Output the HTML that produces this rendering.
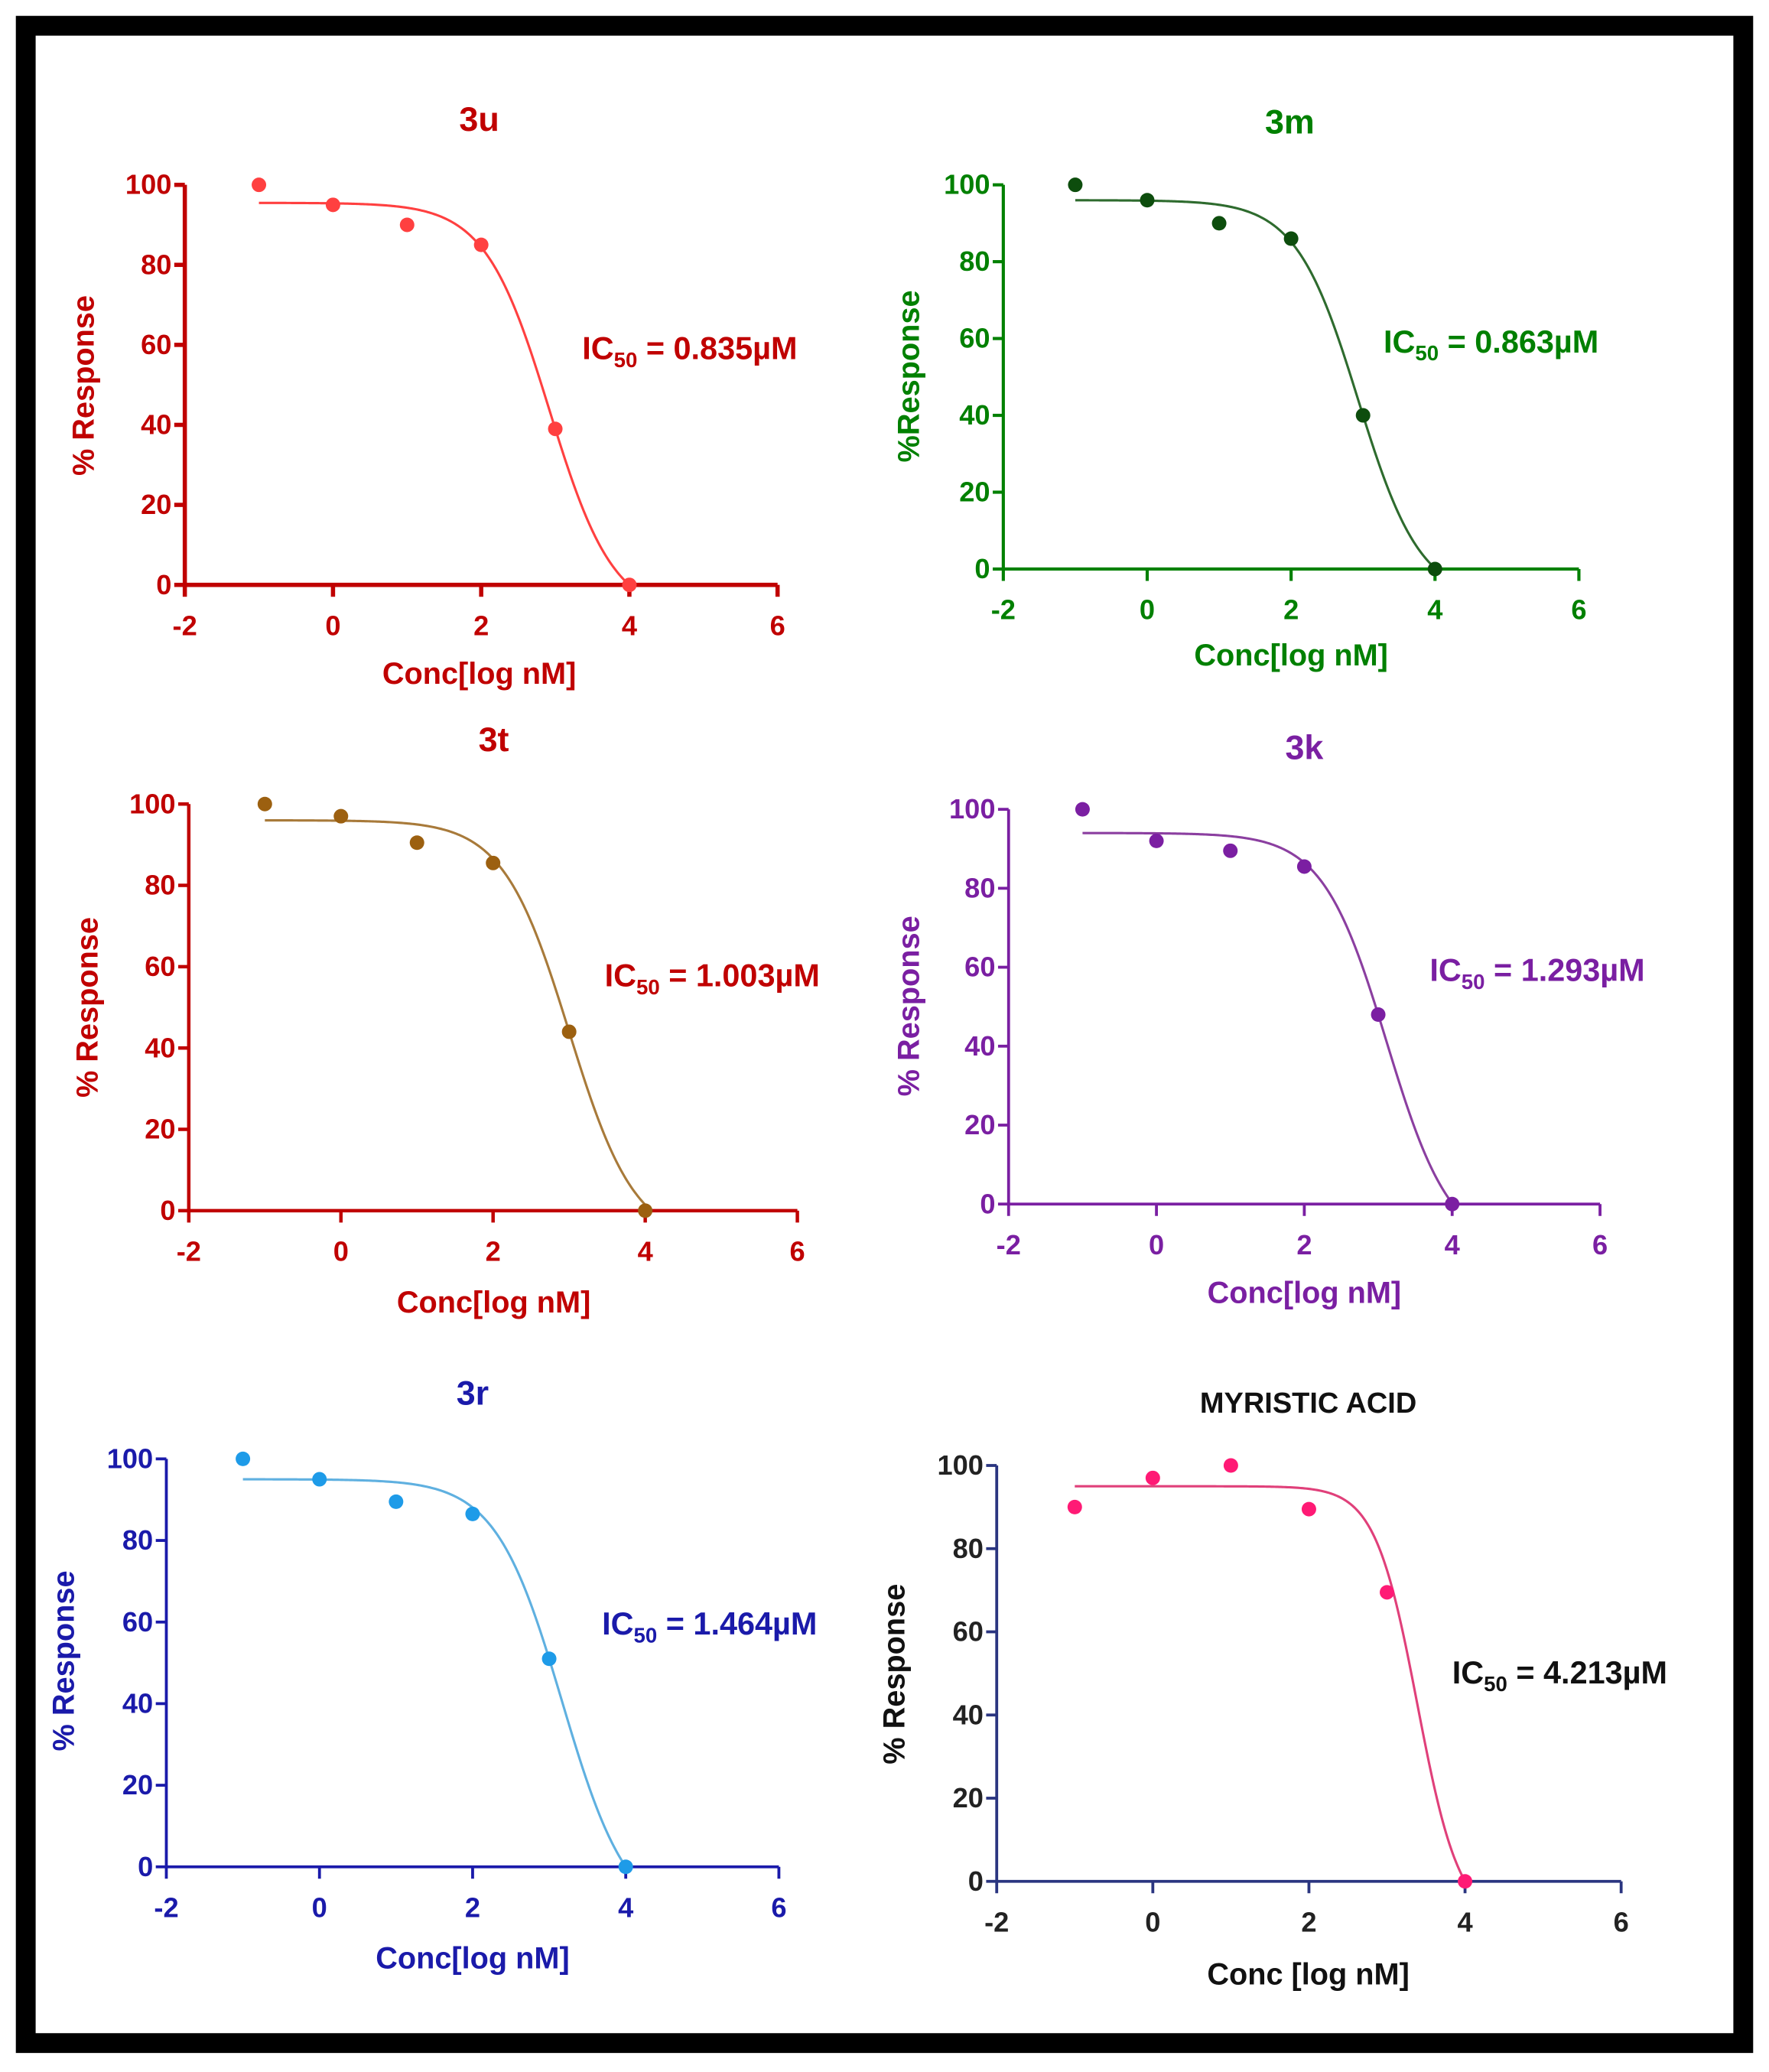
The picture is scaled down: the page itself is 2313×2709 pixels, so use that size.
<!DOCTYPE html>
<html><head><meta charset="utf-8"><style>
html,body{margin:0;padding:0;background:#fff;}
svg{display:block;}
text{font-family:"Liberation Sans",Arial,sans-serif;font-weight:bold;}
</style></head><body>
<svg id="s" width="2313" height="2709" viewBox="0 0 1340 1569.4" xmlns="http://www.w3.org/2000/svg">
<rect x="0" y="0" width="1340" height="1570" fill="#fff"/>
<rect x="19.5" y="19.5" width="1301" height="1528" fill="none" stroke="#000" stroke-width="15"/>
<g id="g"></g>
<g font-size="26" text-anchor="middle">
<text x="363" y="99" fill="#c00000">3u</text>
<text x="977" y="101" fill="#008000">3m</text>
<text x="374" y="569" fill="#c00000">3t</text>
<text x="988" y="575" fill="#7a1fa2">3k</text>
<text x="358" y="1064" fill="#1a1aaa">3r</text>
<text x="991" y="1070" fill="#111" font-size="22">MYRISTIC ACID</text>
</g>
<g font-size="23" text-anchor="middle">
<text x="363" y="518" fill="#c00000">Conc[log nM]</text>
<text x="978" y="504" fill="#008000">Conc[log nM]</text>
<text x="374" y="994" fill="#c00000">Conc[log nM]</text>
<text x="988" y="987" fill="#7a1fa2">Conc[log nM]</text>
<text x="358" y="1491" fill="#1a1aaa">Conc[log nM]</text>
<text x="991" y="1503" fill="#111">Conc [log nM]</text>
<text transform="translate(71,292) rotate(-90)" fill="#c00000">% Response</text>
<text transform="translate(696,285) rotate(-90)" fill="#008000">%Response</text>
<text transform="translate(74,763) rotate(-90)" fill="#c00000">% Response</text>
<text transform="translate(696,762) rotate(-90)" fill="#7a1fa2">% Response</text>
<text transform="translate(56,1258) rotate(-90)" fill="#1a1aaa">% Response</text>
<text transform="translate(685,1268) rotate(-90)" fill="#111">% Response</text>
</g>
<g font-size="24">
<text x="441" y="272" fill="#c00000">IC<tspan font-size="16" dy="6">50</tspan><tspan dy="-6"> = 0.835µM</tspan></text>
<text x="1048" y="267" fill="#008000">IC<tspan font-size="16" dy="6">50</tspan><tspan dy="-6"> = 0.863µM</tspan></text>
<text x="458" y="747" fill="#c00000">IC<tspan font-size="16" dy="6">50</tspan><tspan dy="-6"> = 1.003µM</tspan></text>
<text x="1083" y="743" fill="#7a1fa2">IC<tspan font-size="16" dy="6">50</tspan><tspan dy="-6"> = 1.293µM</tspan></text>
<text x="456" y="1238" fill="#1a1aaa">IC<tspan font-size="16" dy="6">50</tspan><tspan dy="-6"> = 1.464µM</tspan></text>
<text x="1100" y="1275" fill="#111" font-weight="normal">IC<tspan font-size="16" dy="6">50</tspan><tspan dy="-6"> = 4.213µM</tspan></text>
</g>
<g id="t" font-size="21"></g>
</svg>
<script>
var P=[
{x0:140,x6:589,y100:140,y0:443,ax:"#c00000",cv:"#ff4040",pt:"#ff4040",tk:"#c00000",lw:3.2,top:95.5,c:2.92,h:1.0,b:-8,d:[100,95,90,85,39,0]},
{x0:760,x6:1196,y100:140,y0:431,ax:"#008000",cv:"#2e6b2e",pt:"#0d4d0d",tk:"#008000",lw:2.4,top:96,c:2.933,h:1.0,b:-8,d:[100,96,90,86,40,0]},
{x0:143,x6:604,y100:609,y0:917,ax:"#c00000",cv:"#a87a3a",pt:"#9c6010",tk:"#c00000",lw:2.6,top:96,c:3.0,h:1.0,b:-8,d:[100,97,90.5,85.5,44,0]},
{x0:764,x6:1212,y100:613,y0:912,ax:"#7a1fa2",cv:"#8b3fa0",pt:"#7b1fa2",tk:"#7a1fa2",lw:2.2,top:94,c:3.115,h:1.0,b:-12,d:[100,92,89.5,85.5,48,0]},
{x0:126,x6:590,y100:1105,y0:1414,ax:"#1a1aaa",cv:"#5fb0e0",pt:"#1e9be8",tk:"#1a1aaa",lw:2.2,top:95,c:3.169,h:1.0,b:-14,d:[100,95,89.5,86.5,51,0]},
{x0:755,x6:1228,y100:1110,y0:1425,ax:"#2a3580",cv:"#e0407a",pt:"#ff1a75",tk:"#222",lw:2.2,top:95,c:3.39,h:1.6,b:-10,d:[90,97,100,89.5,69.5,0],nb:1}
];
var g="",t="";
P.forEach(function(p){
 function X(v){return p.x0+(v+2)/8*(p.x6-p.x0);}
 function Y(v){return p.y0+(p.y100-p.y0)*v/100;}
 g+='<g stroke="'+p.ax+'" stroke-width="'+p.lw+'" fill="none">';
 g+='<path d="M'+X(-2)+' '+Y(100)+'V'+p.y0+'H'+X(6)+'"/>';
 for(var v=0;v<=100;v+=20){g+='<path d="M'+(X(-2)-8)+' '+Y(v)+'H'+X(-2)+'"/>';
  t+='<text x="'+(X(-2)-10)+'" y="'+(Y(v)+7)+'" text-anchor="end" fill="'+p.tk+'"'+(p.nb?' font-weight="normal" font-size="21"':'')+'>'+v+'</text>';}
 for(var u=-2;u<=6;u+=2){g+='<path d="M'+X(u)+' '+p.y0+'V'+(p.y0+9)+'"/>';
  t+='<text x="'+X(u)+'" y="'+(p.y0+38)+'" text-anchor="middle" fill="'+p.tk+'"'+(p.nb?' font-weight="normal" font-size="21"':'')+'>'+u+'</text>';}
 g+='</g>';
 var d="";
 for(var x=-1;x<=4.0001;x+=0.02){var y=p.b+(p.top-p.b)/(1+Math.pow(10,p.h*(x-p.c)));if(y<0)y=0;d+=(d?"L":"M")+X(x).toFixed(2)+" "+Y(y).toFixed(2);}
 g+='<path d="'+d+'" stroke="'+p.cv+'" stroke-width="1.8" fill="none"/>';
 p.d.forEach(function(v,i){g+='<circle cx="'+X(i-1)+'" cy="'+Y(v)+'" r="5.5" fill="'+p.pt+'"/>';});
});
document.getElementById("g").innerHTML=g;
document.getElementById("t").innerHTML=t;
</script>
</body></html>
